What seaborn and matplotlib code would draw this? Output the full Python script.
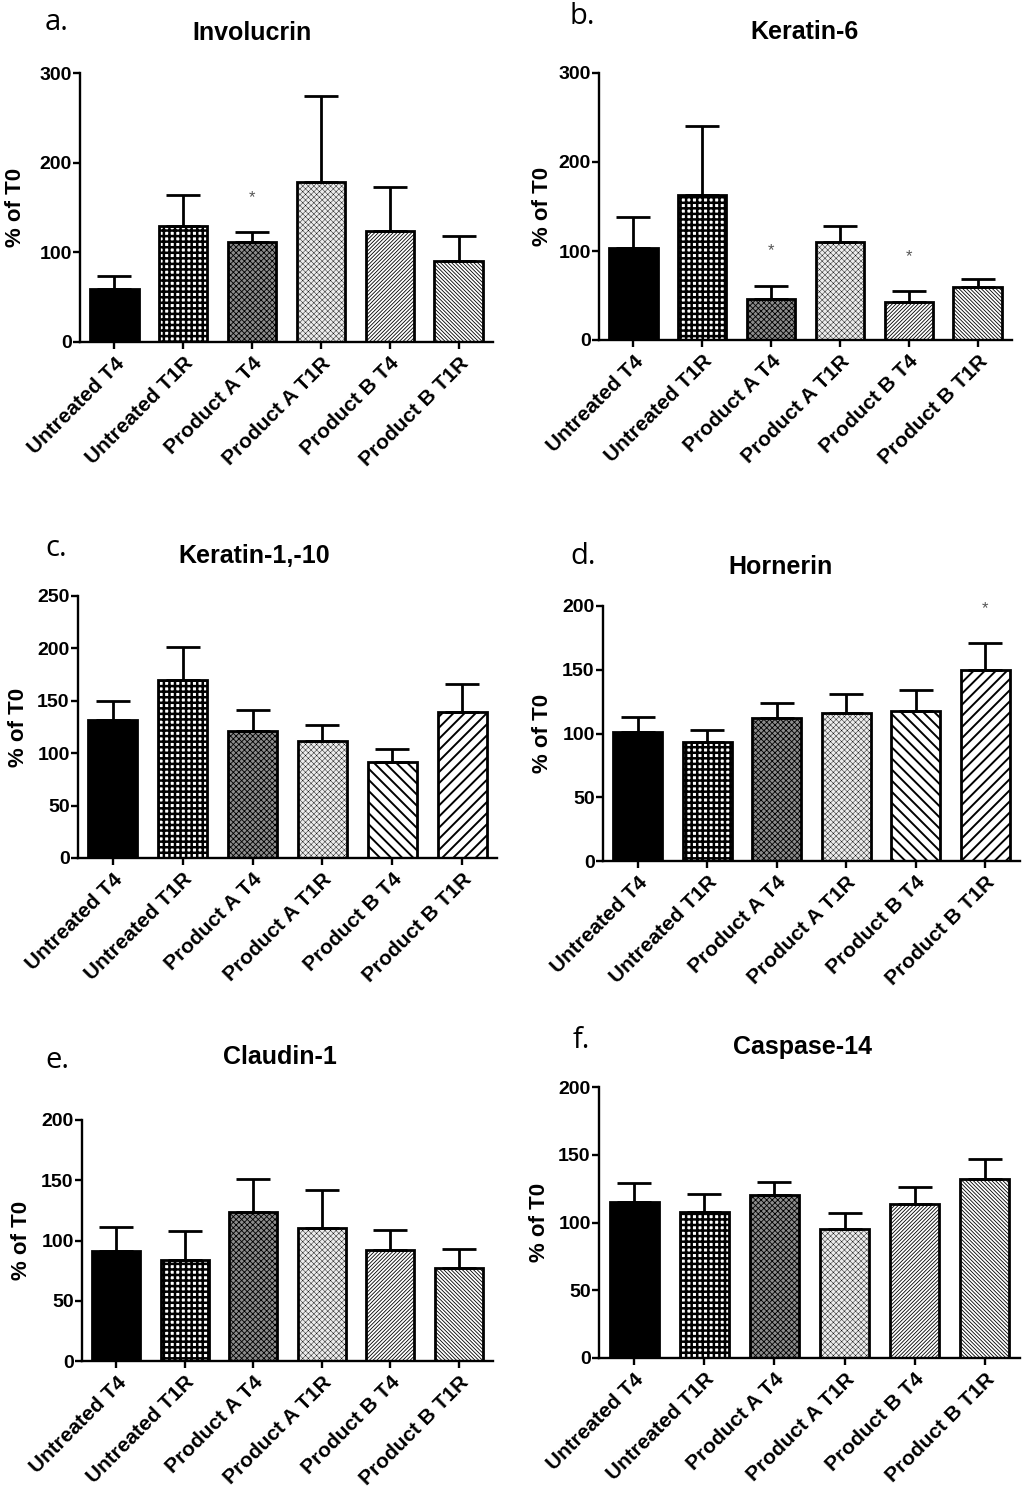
import matplotlib
matplotlib.use("Agg")
import matplotlib.pyplot as plt
import seaborn as sns
import pandas as pd
import numpy as np

# ---------------- data ----------------
categories = ["Untreated T4", "Untreated T1R", "Product A T4",
              "Product A T1R", "Product B T4", "Product B T1R"]

involucrin_mean = [59, 129, 112, 178, 124, 90]
involucrin_sem = [15, 35, 11, 96, 49, 28]
involucrin_star_idx = [2]
involucrin_star_y = [161]

keratin6_mean = [103, 163, 46, 110, 43, 60]
keratin6_sem = [35, 77, 15, 18, 12, 9]
keratin6_star_idx = [2, 4]
keratin6_star_y = [100, 94]

keratin1_10_mean = [132, 170, 121, 112, 92, 139]
keratin1_10_sem = [18, 31, 20, 15, 12, 27]
keratin1_10_star_idx = []
keratin1_10_star_y = []

hornerin_mean = [101, 93, 112, 116, 118, 150]
hornerin_sem = [12, 10, 12, 15, 16, 21]
hornerin_star_idx = [5]
hornerin_star_y = [198]

claudin1_mean = [91, 84, 124, 110, 92, 77]
claudin1_sem = [20, 24, 27, 32, 17, 16]
claudin1_star_idx = []
claudin1_star_y = []

caspase14_mean = [115, 108, 120, 95, 114, 132]
caspase14_sem = [14, 13, 10, 12, 12, 15]
caspase14_star_idx = []
caspase14_star_y = []

titles = ["Involucrin", "Keratin-6", "Keratin-1,-10", "Hornerin", "Claudin-1", "Caspase-14"]
letters = ["a.", "b.", "c.", "d.", "e.", "f."]
ymax_list = [300, 300, 250, 200, 200, 200]
ystep_list = [100, 100, 50, 50, 50, 50]

# ---------------- styles / layout ----------------
W, H = 1024, 1497
sns.set_theme(style="ticks")
plt.rcParams["font.family"] = ["Liberation Sans", "DejaVu Sans"]
plt.rcParams["hatch.linewidth"] = 0.7
for k in ["text.color", "axes.labelcolor", "xtick.color", "ytick.color", "axes.edgecolor"]:
    plt.rcParams[k] = "black"

# (facecolor, hatch, hatch linewidth)
style_fine = [("black", "", 0.7),
              ("white", "+++", 1.8),
              ("#8c8c8c", "xxxxxx", 0.6),
              ("#ececec", "xxxxxx", 0.3),
              ("white", "/////////", 0.6),
              ("white", "\\\\\\\\\\\\\\\\\\", 0.6)]
style_coarse = [("black", "", 0.7),
                ("white", "+++", 1.8),
                ("#8c8c8c", "xxxxxx", 0.6),
                ("#ececec", "xxxxxx", 0.3),
                ("white", "\\\\\\", 1.4),
                ("white", "///", 1.4)]

panels = [
    dict(mean=involucrin_mean, sem=involucrin_sem, sidx=involucrin_star_idx, sy=involucrin_star_y,
         rect=(80, 73, 493, 342), title_xy=(252, 33), letter_xy=(45, 22), ylab_x=16, style=style_fine),
    dict(mean=keratin6_mean, sem=keratin6_sem, sidx=keratin6_star_idx, sy=keratin6_star_y,
         rect=(599, 73, 1012, 340), title_xy=(804, 32), letter_xy=(570, 16), ylab_x=543, style=style_fine),
    dict(mean=keratin1_10_mean, sem=keratin1_10_sem, sidx=keratin1_10_star_idx, sy=keratin1_10_star_y,
         rect=(78, 596, 497, 858), title_xy=(254, 556), letter_xy=(45, 548), ylab_x=19, style=style_coarse),
    dict(mean=hornerin_mean, sem=hornerin_sem, sidx=hornerin_star_idx, sy=hornerin_star_y,
         rect=(603, 606, 1020, 861), title_xy=(780, 567), letter_xy=(570, 557), ylab_x=543, style=style_coarse),
    dict(mean=claudin1_mean, sem=claudin1_sem, sidx=claudin1_star_idx, sy=claudin1_star_y,
         rect=(82, 1120, 493, 1361), title_xy=(280, 1057), letter_xy=(45, 1060), ylab_x=22, style=style_fine),
    dict(mean=caspase14_mean, sem=caspase14_sem, sidx=caspase14_star_idx, sy=caspase14_star_y,
         rect=(599, 1087, 1020, 1358), title_xy=(803, 1047), letter_xy=(573, 1040), ylab_x=540, style=style_fine),
]

fig = plt.figure(figsize=(W / 100, H / 100), dpi=100)
fig.patch.set_facecolor("white")


def rect_px(l, t, r, b):
    return [l / W, 1 - b / H, (r - l) / W, (b - t) / H]


for i, p in enumerate(panels):
    l, t, r, b = p["rect"]
    ax = fig.add_axes(rect_px(l, t, r, b))
    df = pd.DataFrame({"cond": categories, "val": p["mean"]})
    sns.barplot(data=df, x="cond", y="val", order=categories, ax=ax,
                color="white", edgecolor="black", linewidth=2.0, width=0.7,
                errorbar=None, saturation=1)
    for patch, (fc, hatch, hlw) in zip(ax.patches, p["style"]):
        patch.set_facecolor(fc)
        patch.set_edgecolor("black")
        patch.set_hatch(hatch)
        try:
            patch.set_hatch_linewidth(hlw)
        except AttributeError:
            pass
    x = np.arange(len(categories))
    ax.errorbar(x, p["mean"], yerr=[np.zeros(len(x)), p["sem"]], fmt="none",
                ecolor="black", elinewidth=2.0, capsize=12, capthick=2.0, zorder=1)
    for si, sy in zip(p["sidx"], p["sy"]):
        ax.text(si, sy, "*", ha="center", va="center", fontsize=12, color="#555555")

    ax.set_xlim(-0.5, 5.5)
    ax.set_ylim(0, ymax_list[i])
    ax.set_yticks(np.arange(0, ymax_list[i] + 1, ystep_list[i]))
    for s in ["top", "right"]:
        ax.spines[s].set_visible(False)
    for s in ["left", "bottom"]:
        ax.spines[s].set_linewidth(1.7)
        ax.spines[s].set_color("black")
    ax.tick_params(axis="both", width=1.7, length=5, color="black", direction="out")
    ax.tick_params(axis="y", labelsize=14, pad=1)
    ax.set_xticks(x)
    ax.set_xticklabels(categories, rotation=45, ha="right", rotation_mode="anchor",
                       fontsize=15, fontweight="bold")
    for lab in ax.get_yticklabels():
        lab.set_fontweight("bold")
    ax.set_xlabel("")
    ax.set_ylabel("% of T0", fontsize=16, fontweight="bold")
    ax.yaxis.set_label_coords((p["ylab_x"] + 10 - l) / (r - l), 0.5)
    ax.set_facecolor("white")

    tx, ty = p["title_xy"]
    fig.text(tx / W, 1 - ty / H, titles[i], ha="center", va="center",
             fontsize=18, fontweight="bold")
    lx, ly = p["letter_xy"]
    fig.text(lx / W, 1 - ly / H, letters[i], ha="left", va="center",
             fontsize=21, family=["Open Sans", "DejaVu Sans"])

fig.savefig("out.png", dpi=100, facecolor="white")
